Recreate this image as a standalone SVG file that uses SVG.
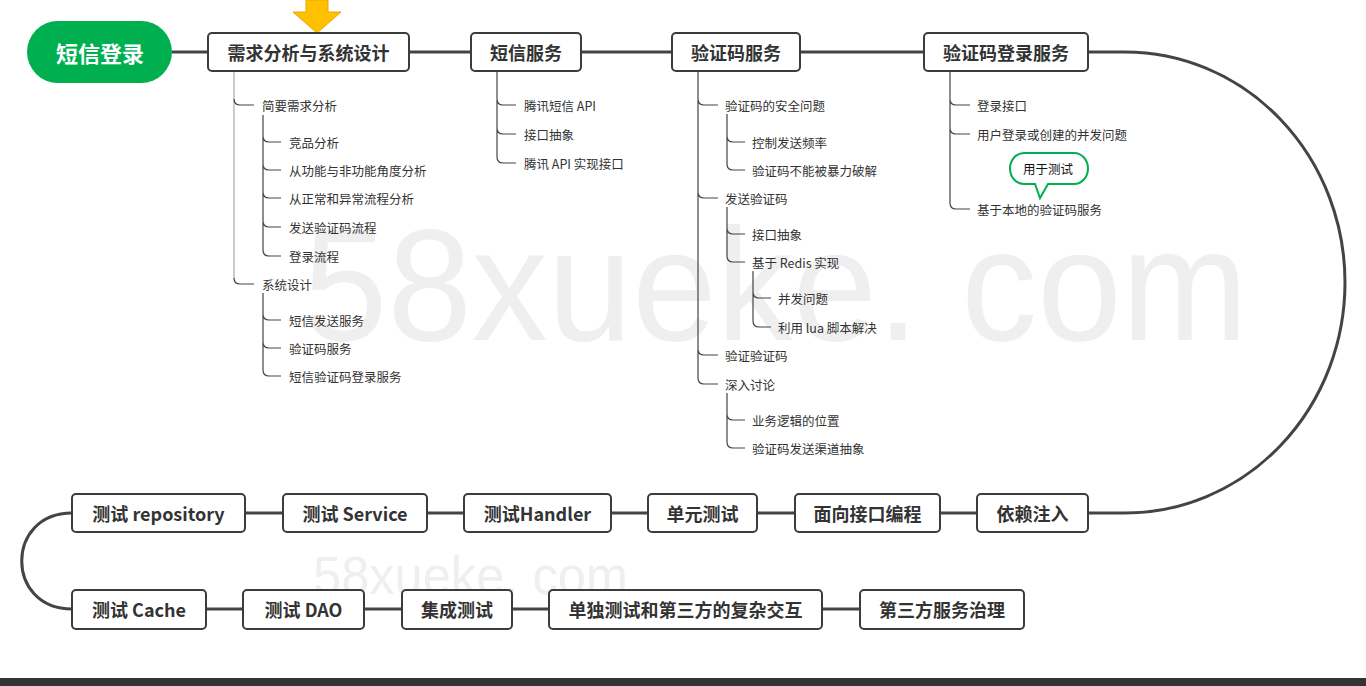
<svg xmlns="http://www.w3.org/2000/svg" width="1366" height="686" viewBox="0 0 1366 686">
<style>
.node rect{fill:#fff;stroke:#3c3c3c;stroke-width:2}
.nt{font-family:"Noto Sans CJK SC","Noto Sans",sans-serif;font-weight:bold;font-size:18px;fill:#333;text-anchor:middle;dominant-baseline:central}
.st{font-family:"Noto Sans CJK SC","Noto Sans",sans-serif;font-size:12.5px;fill:#333;dominant-baseline:central}
.main{fill:none;stroke:#444;stroke-width:3}
.tr{fill:none;stroke:#444;stroke-width:1.2}
.tl{fill:none;stroke:#ccc;stroke-width:2}
.wm{font-family:"Liberation Sans","Noto Sans",sans-serif;fill:#efefef}
</style>
<rect width="1366" height="686" fill="#fff"/>
<text class="wm" x="303" y="340" font-size="160" textLength="945" lengthAdjust="spacingAndGlyphs">58xueke. com</text>
<text class="wm" x="313" y="594" font-size="54" fill="#e6e6e6" textLength="315" lengthAdjust="spacingAndGlyphs">58xueke. com</text>

<g id="connectors">
<path class="main" d="M172,52 H1125 A220 230.5 0 0 1 1125,513 H1088"/>
<path class="main" d="M977,513 H940 M795,513 H757 M648,513 H611 M464,513 H427 M283,513 H245"/>
<path class="main" d="M72,513 C5,513 5,609 72,609"/>
<path class="main" d="M206,609 H243 M364,609 H402 M512,609 H549 M822,609 H860"/>
<!-- branch trunks -->
<path class="tl" d="M234,71 V279"/>
<path class="tr" d="M234,99 Q234,105 240,105 H254 M234,278 Q234,284 240,284 H254"/>
<path class="tr" d="M263,115 V250 M263,136 Q263,142 269,142 H281 M263,164 Q263,170 269,170 H281 M263,192 Q263,198 269,198 H281 M263,221 Q263,227 269,227 H281 M263,250 Q263,256 269,256 H281"/>
<path class="tr" d="M263,293 V370 M263,314 Q263,320 269,320 H281 M263,342 Q263,348 269,348 H281 M263,370 Q263,376 269,376 H281"/>
<path class="tr" d="M497,71 V157 M497,99 Q497,105 503,105 H516 M497,128 Q497,134 503,134 H516 M497,157 Q497,163 503,163 H516"/>
<path class="tr" d="M698,71 V378 M698,99 Q698,105 704,105 H718 M698,192 Q698,198 704,198 H718 M698,349 Q698,355 704,355 H718 M698,378 Q698,384 704,384 H718"/>
<path class="tr" d="M727,114 V164 M727,136 Q727,142 733,142 H745 M727,164 Q727,170 733,170 H745"/>
<path class="tr" d="M727,207 V256 M727,228 Q727,234 733,234 H745 M727,256 Q727,262 733,262 H745"/>
<path class="tr" d="M753,271 V321 M753,292 Q753,298 759,298 H771 M753,321 Q753,327 759,327 H771"/>
<path class="tr" d="M727,393 V442 M727,414 Q727,420 733,420 H745 M727,442 Q727,448 733,448 H745"/>
<path class="tr" d="M950,71 V203 M950,99 Q950,105 956,105 H970 M950,128 Q950,134 956,134 H970 M950,203 Q950,209 956,209 H970"/>
</g>

<g id="root">
<rect x="27" y="21" width="145" height="62" rx="31" fill="#00b050"/>
<text class="nt" x="100" y="52" fill="#fff" style="fill:#fff;font-size:22px">短信登录</text>
</g>
<g id="arrow">
<path d="M306,0 H328 V12 H341 L317,33 L293,12 H306 Z" fill="#ffc000" stroke="#e8a800" stroke-width="1"/>
</g>

<g id="n1" class="node"><rect x="208" y="33" width="201" height="38" rx="4"/><text class="nt" x="308.5" y="52">需求分析与系统设计</text></g>
<g id="n2" class="node"><rect x="471" y="33" width="110" height="38" rx="4"/><text class="nt" x="526" y="52">短信服务</text></g>
<g id="n3" class="node"><rect x="672" y="33" width="128" height="38" rx="4"/><text class="nt" x="736" y="52">验证码服务</text></g>
<g id="n4" class="node"><rect x="924" y="33" width="164" height="38" rx="4"/><text class="nt" x="1006" y="52">验证码登录服务</text></g>

<g id="n5" class="node"><rect x="977" y="494" width="111" height="38" rx="4"/><text class="nt" x="1032.5" y="513">依赖注入</text></g>
<g id="n6" class="node"><rect x="795" y="494" width="145" height="38" rx="4"/><text class="nt" x="867.5" y="513">面向接口编程</text></g>
<g id="n7" class="node"><rect x="648" y="494" width="109" height="38" rx="4"/><text class="nt" x="702.5" y="513">单元测试</text></g>
<g id="n8" class="node"><rect x="464" y="494" width="147" height="38" rx="4"/><text class="nt" x="537.5" y="513">测试Handler</text></g>
<g id="n9" class="node"><rect x="283" y="494" width="144" height="38" rx="4"/><text class="nt" x="355" y="513">测试 Service</text></g>
<g id="n10" class="node"><rect x="72" y="494" width="173" height="38" rx="4"/><text class="nt" x="158.5" y="513">测试 repository</text></g>

<g id="n11" class="node"><rect x="72" y="590" width="134" height="39" rx="4"/><text class="nt" x="139" y="609">测试 Cache</text></g>
<g id="n12" class="node"><rect x="243" y="590" width="121" height="39" rx="4"/><text class="nt" x="303.5" y="609">测试 DAO</text></g>
<g id="n13" class="node"><rect x="402" y="590" width="110" height="39" rx="4"/><text class="nt" x="457" y="609">集成测试</text></g>
<g id="n14" class="node"><rect x="549" y="590" width="273" height="39" rx="4"/><text class="nt" x="685.5" y="609">单独测试和第三方的复杂交互</text></g>
<g id="n15" class="node"><rect x="860" y="590" width="164" height="39" rx="4"/><text class="nt" x="942" y="609">第三方服务治理</text></g>

<g id="sub1">
<text class="st" x="262" y="105">简要需求分析</text>
<text class="st" x="289" y="142">竞品分析</text>
<text class="st" x="289" y="170">从功能与非功能角度分析</text>
<text class="st" x="289" y="198">从正常和异常流程分析</text>
<text class="st" x="289" y="227">发送验证码流程</text>
<text class="st" x="289" y="256">登录流程</text>
<text class="st" x="262" y="284">系统设计</text>
<text class="st" x="289" y="320">短信发送服务</text>
<text class="st" x="289" y="348">验证码服务</text>
<text class="st" x="289" y="376">短信验证码登录服务</text>
</g>
<g id="sub2">
<text class="st" x="524" y="105">腾讯短信 API</text>
<text class="st" x="524" y="134">接口抽象</text>
<text class="st" x="524" y="163">腾讯 API 实现接口</text>
</g>
<g id="sub3">
<text class="st" x="725" y="105">验证码的安全问题</text>
<text class="st" x="752" y="142">控制发送频率</text>
<text class="st" x="752" y="170">验证码不能被暴力破解</text>
<text class="st" x="725" y="198">发送验证码</text>
<text class="st" x="752" y="234">接口抽象</text>
<text class="st" x="752" y="262">基于 Redis 实现</text>
<text class="st" x="778" y="298">并发问题</text>
<text class="st" x="778" y="327">利用 lua 脚本解决</text>
<text class="st" x="725" y="355">验证验证码</text>
<text class="st" x="725" y="384">深入讨论</text>
<text class="st" x="752" y="420">业务逻辑的位置</text>
<text class="st" x="752" y="448">验证码发送渠道抽象</text>
</g>
<g id="sub4">
<text class="st" x="977" y="105">登录接口</text>
<text class="st" x="977" y="134">用户登录或创建的并发问题</text>
<text class="st" x="977" y="209">基于本地的验证码服务</text>
</g>
<g id="callout">
<path d="M1024,153 H1074 A14,15.5 0 0 1 1074,184 H1048 L1040,198 L1035,184 H1024 A14,15.5 0 0 1 1024,153 Z" fill="#fff" stroke="#00b050" stroke-width="2"/>
<text class="st" x="1048" y="168.5" text-anchor="middle" style="fill:#111">用于测试</text>
</g>
<rect x="0" y="678" width="1366" height="8" fill="#333"/>
</svg>
